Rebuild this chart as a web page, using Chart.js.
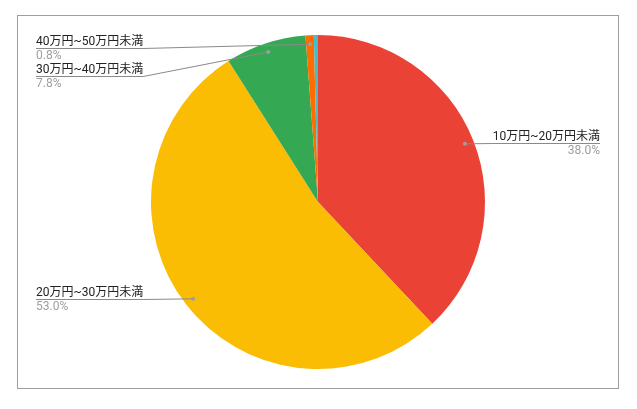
<!DOCTYPE html>
<html>
<head>
<meta charset="utf-8">
<script src="https://cdn.jsdelivr.net/npm/chart.js@4"></script>
<style>
  html, body { margin: 0; padding: 0; background: #fff; }
  #wrap { width: 637px; height: 409px; position: relative; }
</style>
</head>
<body>
<div id="wrap"><canvas id="pieChart"></canvas></div>
<script>
// income brackets, share in %
const categories = ['10万円~20万円未満', '20万円~30万円未満', '30万円~40万円未満', '40万円~50万円未満', '50万円以上'];
const shares = [38.0, 53.0, 7.8, 0.8, 0.4];
const sliceColors = ['#EA4335', '#FBBC04', '#34A853', '#FF6D01', '#46BDC6'];

document.addEventListener("DOMContentLoaded", function () {
    const ctx = document.getElementById('pieChart').getContext('2d');

    // where each label sits (slice index -> text anchor); the tiny last slice has none
    const labelLayout = {
        0: { x: 600, lineY: 143, align: 'right' },
        1: { x: 36, lineY: 299, align: 'left' },
        2: { x: 36, lineY: 76, align: 'left' },
        3: { x: 36, lineY: 48, align: 'left' }
    };

    const framePlugin = {
        id: 'frame',
        beforeDraw(chart) {
            const c = chart.ctx;
            c.save();
            c.fillStyle = '#fff';
            c.fillRect(0, 0, chart.width, chart.height);
            c.strokeStyle = '#9e9e9e';
            c.lineWidth = 1;
            c.strokeRect(17.5, 15.5, 601, 373);
            c.restore();
        }
    };

    const labelPlugin = {
        id: 'sideLabels',
        afterDraw(chart) {
            const c = chart.ctx;
            const arcs = chart.getDatasetMeta(0).data;
            const values = chart.data.datasets[0].data;
            c.save();
            c.font = '12px Roboto, "Noto Sans CJK JP", sans-serif';
            Object.keys(labelLayout).forEach(function (key) {
                const i = Number(key);
                const pos = labelLayout[i];
                const arc = arcs[i];
                const mid = (arc.startAngle + arc.endAngle) / 2;
                const r = arc.outerRadius * 0.946;
                const dotX = arc.x + Math.cos(mid) * r;
                const dotY = arc.y + Math.sin(mid) * r;

                const name = chart.data.labels[i];
                const w = c.measureText(name).width;
                let x0, x1;
                if (pos.align === 'left') { x0 = pos.x; x1 = pos.x + w; }
                else { x0 = pos.x - w; x1 = pos.x; }

                // leader line: underline the name, then run to the dot
                c.strokeStyle = '#8a8a8a';
                c.lineWidth = 1;
                c.beginPath();
                if (pos.align === 'left') {
                    c.moveTo(x0, pos.lineY + 0.5);
                    if (dotX > x1) {
                        c.lineTo(x1, pos.lineY + 0.5);
                    }
                    c.lineTo(dotX, dotY);
                } else {
                    c.moveTo(x1, pos.lineY + 0.5);
                    if (dotX < x0) {
                        c.lineTo(x0, pos.lineY + 0.5);
                    }
                    c.lineTo(dotX, dotY);
                }
                c.stroke();

                c.fillStyle = '#9e9e9e';
                c.beginPath();
                c.arc(dotX, dotY, 2, 0, Math.PI * 2);
                c.fill();

                c.textAlign = pos.align;
                c.textBaseline = 'alphabetic';
                c.fillStyle = '#222';
                c.fillText(name, pos.x, pos.lineY - 3);
                c.fillStyle = '#9e9e9e';
                c.textBaseline = 'top';
                c.fillText(values[i].toFixed(1) + '%', pos.x, pos.lineY + 2);
            });
            c.restore();
        }
    };

    new Chart(ctx, {
        type: 'pie',
        data: {
            labels: categories,
            datasets: [{
                data: shares,
                backgroundColor: sliceColors,
                borderWidth: 0
            }]
        },
        options: {
            responsive: true,
            maintainAspectRatio: false,
            animation: false,
            layout: {
                padding: { left: 151, right: 152, top: 35, bottom: 40 }
            },
            plugins: {
                legend: { display: false },
                tooltip: { enabled: false }
            }
        },
        plugins: [framePlugin, labelPlugin]
    });
});
</script>
</body>
</html>
